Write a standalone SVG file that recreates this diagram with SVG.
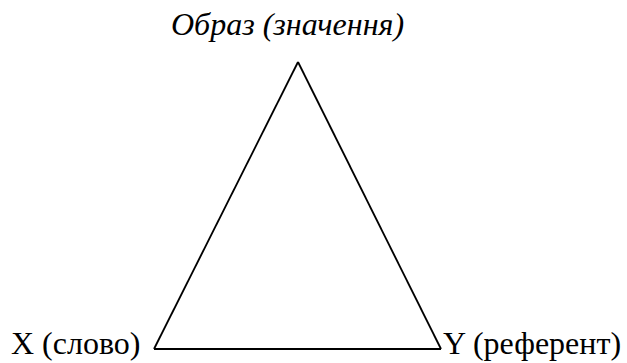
<svg xmlns="http://www.w3.org/2000/svg" width="627" height="363" viewBox="0 0 627 363">
<style>
.t{font-family:"Liberation Serif","Times New Roman",serif;font-size:32px;fill:#000}
.edge{fill:none;stroke:#000;stroke-width:1.8}
</style>
<rect width="627" height="363" fill="#fff"/>
<g id="connectors">
<line class="edge" x1="298" y1="62" x2="154" y2="349"/>
<line class="edge" x1="298" y1="62" x2="441" y2="349"/>
<line class="edge" x1="154" y1="349" x2="441" y2="349"/>
</g>
<g id="node-image"><text class="t" x="171" y="35" font-style="italic" font-size="30.8">Образ (значення)</text></g>
<g id="node-word"><text class="t" x="11" y="354" font-size="31.3">X (слово)</text></g>
<g id="node-referent"><text class="t" x="443" y="354">Y (референт)</text></g>
</svg>
